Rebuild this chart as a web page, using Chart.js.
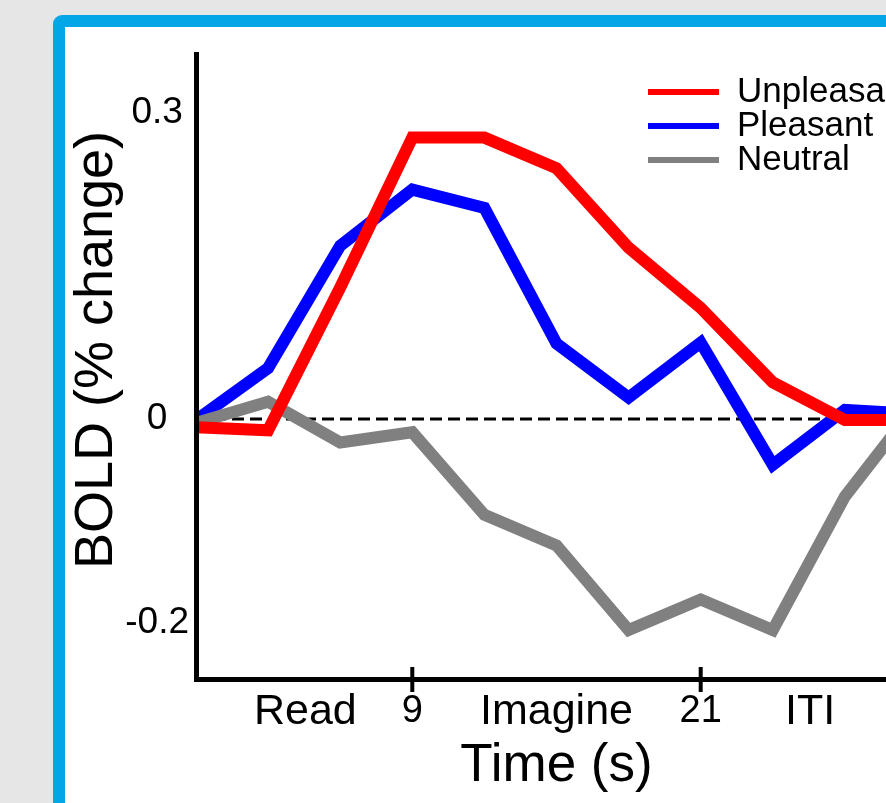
<!DOCTYPE html>
<html>
<head>
<meta charset="utf-8">
<title>BOLD response by condition</title>
<script src="https://cdn.jsdelivr.net/npm/chart.js@4.4.1/dist/chart.umd.min.js"></script>
<style>
  html, body { margin: 0; padding: 0; width: 886px; height: 803px; overflow: hidden; background: #e6e6e6; }
  #panel { position: absolute; left: 53px; top: 15px; width: 1000px; height: 1000px; box-sizing: border-box;
           border: 12px solid #03a6e6; border-radius: 9px; background: #fff; }
  #wrap { position: absolute; left: 0; top: 0; width: 1000px; height: 803px; }
</style>
</head>
<body>
<div id="panel"></div>
<div id="wrap"><canvas id="boldChart"></canvas></div>
<script>
const FONT = "'Liberation Sans', Arial, Helvetica, sans-serif";

// time points (s) and % signal change per condition
const times = [0, 3, 6, 9, 12, 15, 18, 21, 24, 27, 30];
const unpleasant = [-0.008, -0.011, 0.129, 0.276, 0.276, 0.246, 0.168, 0.109, 0.036, -0.001, -0.001];
const pleasant = [-0.001, 0.050, 0.170, 0.225, 0.207, 0.074, 0.021, 0.075, -0.045, 0.009, 0.005];
const neutral = [-0.004, 0.017, -0.023, -0.013, -0.094, -0.124, -0.207, -0.177, -0.207, -0.076, 0.015];

const baselineX = [0, 30];
const baselineY = [0, 0];

const seriesLabels = ['Unpleasant', 'Pleasant', 'Neutral'];
const seriesColors = ['#ff0000', '#0000ff', '#808080'];

const xTicks = [9, 21];
const phaseLabels = ['Read', 'Imagine', 'ITI'];
const phaseCenters = [4.55, 15, 25.55];
const yTicks = [-0.2, 0, 0.3];
const yTickLabels = ['-0.2', '0', '0.3'];

const xTitle = 'Time (s)';
const yTitle = 'BOLD (% change)';

function toPoints(xs, ys) {
  return xs.map((x, i) => ({ x: x, y: ys[i] }));
}

// tick marks across the x axis line
const crossTicks = {
  id: 'crossTicks',
  afterDraw(chart) {
    const ctx = chart.ctx;
    const xs = chart.scales.x;
    const bottom = chart.chartArea.bottom;
    ctx.save();
    ctx.strokeStyle = '#000';
    ctx.lineWidth = 4;
    xTicks.forEach(v => {
      const px = xs.getPixelForValue(v);
      ctx.beginPath();
      ctx.moveTo(px, bottom - 12);
      ctx.lineTo(px, bottom + 13);
      ctx.stroke();
    });
    ctx.restore();
  }
};

// legend drawn inside the plot, top right
const insideLegend = {
  id: 'insideLegend',
  afterDraw(chart) {
    const ctx = chart.ctx;
    ctx.save();
    ctx.font = '35px ' + FONT;
    ctx.textBaseline = 'middle';
    ctx.textAlign = 'left';
    seriesLabels.forEach((label, i) => {
      const y = 92 + i * 34;
      ctx.strokeStyle = seriesColors[i];
      ctx.lineWidth = 6;
      ctx.beginPath();
      ctx.moveTo(648, y);
      ctx.lineTo(719, y);
      ctx.stroke();
      ctx.fillStyle = '#000';
      ctx.fillText(label, 737, y);
    });
    ctx.restore();
  }
};

const yAxisTitle = {
  id: 'yAxisTitle',
  afterDraw(chart) {
    const ctx = chart.ctx;
    ctx.save();
    ctx.translate(97, 350);
    ctx.rotate(-Math.PI / 2);
    ctx.font = '54px ' + FONT;
    ctx.fillStyle = '#000';
    ctx.textAlign = 'center';
    ctx.textBaseline = 'middle';
    ctx.fillText(yTitle, 0, 0);
    ctx.restore();
  }
};

function initChart() {
  const ctx = document.getElementById('boldChart').getContext('2d');
  const lineStyle = { borderWidth: 12, pointRadius: 0, tension: 0, borderJoinStyle: 'miter', borderCapStyle: 'butt', fill: false };

  new Chart(ctx, {
    type: 'line',
    data: {
      datasets: [
        Object.assign({ label: seriesLabels[0], data: toPoints(times, unpleasant), borderColor: seriesColors[0], order: 0 }, lineStyle),
        Object.assign({ label: seriesLabels[1], data: toPoints(times, pleasant), borderColor: seriesColors[1], order: 2 }, lineStyle),
        Object.assign({ label: seriesLabels[2], data: toPoints(times, neutral), borderColor: seriesColors[2], order: 1 }, lineStyle),
        {
          label: 'baseline',
          data: toPoints(baselineX, baselineY),
          borderColor: '#000',
          borderWidth: 3,
          borderDash: [12, 6],
          pointRadius: 0,
          order: 3
        }
      ]
    },
    options: {
      responsive: true,
      maintainAspectRatio: false,
      animation: false,
      layout: { padding: { left: 0, top: 54, right: 83, bottom: 0 } },
      plugins: {
        legend: { display: false },
        tooltip: { enabled: false }
      },
      scales: {
        x: {
          type: 'linear',
          min: 0,
          max: 30,
          afterFit: s => { s.height = 124; },
          afterBuildTicks: s => {
            s.ticks = xTicks.concat(phaseCenters).sort((a, b) => a - b).map(v => ({ value: v }));
          },
          grid: { display: false, drawTicks: false },
          border: { display: true, color: '#000', width: 5, z: 1 },
          ticks: {
            autoSkip: false,
            maxRotation: 0,
            minRotation: 0,
            padding: 13,
            color: '#000',
            font: c => {
              const isPhase = c.tick && phaseCenters.includes(c.tick.value);
              return { family: FONT, size: isPhase ? 43 : 38, lineHeight: '40px' };
            },
            callback: v => {
              const k = phaseCenters.indexOf(v);
              return k >= 0 ? phaseLabels[k] : String(v);
            }
          },
          title: {
            display: true,
            text: xTitle,
            color: '#000',
            font: { family: FONT, size: 53 },
            padding: { top: 0, bottom: 5 }
          }
        },
        y: {
          min: -0.255,
          max: 0.358,
          afterFit: s => { s.width = 196; },
          afterBuildTicks: s => {
            s.ticks = yTicks.map(v => ({ value: v }));
          },
          grid: { display: false, drawTicks: false },
          border: { display: true, color: '#000', width: 5, z: 1 },
          ticks: {
            crossAlign: 'center',
            padding: 7,
            color: '#000',
            font: { family: FONT, size: 37 },
            callback: v => {
              const k = yTicks.indexOf(v);
              return k >= 0 ? yTickLabels[k] : '';
            }
          },
          title: { display: false }
        }
      }
    },
    plugins: [crossTicks, insideLegend, yAxisTitle]
  });
}

document.addEventListener('DOMContentLoaded', initChart);
</script>
</body>
</html>
